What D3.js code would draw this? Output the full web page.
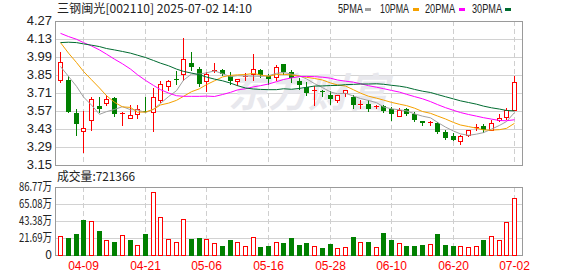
<!DOCTYPE html>
<html>
<head>
<meta charset="utf-8">
<script src="https://cdn.jsdelivr.net/npm/d3@7"></script>
<style>
body { margin: 0; background: #fff; }
svg { display: block; }
text { font-family: "Liberation Sans", Arial, sans-serif; }
.cjk { font-family: "Noto Sans CJK SC", sans-serif; }
</style>
</head>
<body>
<svg></svg>
<script>
var width = 578,
    height = 276;

//data
var dates = ["04-03","04-07","04-08","04-09","04-10","04-11","04-14","04-15","04-16","04-17",
  "04-18","04-21","04-22","04-23","04-24","04-25","04-28","04-29","04-30","05-06",
  "05-07","05-08","05-09","05-12","05-13","05-14","05-15","05-16","05-19","05-20",
  "05-21","05-22","05-23","05-26","05-27","05-28","05-29","05-30","06-03","06-04",
  "06-05","06-06","06-09","06-10","06-11","06-12","06-13","06-16","06-17","06-18",
  "06-19","06-20","06-23","06-24","06-25","06-26","06-27","06-30","07-01","07-02"];

var open = [3.813,3.813,3.558,3.416,3.501,3.609,3.633,3.671,3.550,3.516,
  3.550,3.573,3.563,3.656,3.762,3.818,3.854,3.940,3.898,3.800,
  3.885,3.885,3.844,3.805,3.836,3.860,3.890,3.842,3.834,3.937,
  3.873,3.800,3.756,3.730,3.723,3.697,3.658,3.710,3.679,3.617,
  3.627,3.601,3.609,3.583,3.529,3.583,3.550,3.496,3.478,3.480,
  3.408,3.377,3.336,3.382,3.442,3.452,3.421,3.498,3.522,3.576];
var high = [4.025,3.844,3.589,3.573,3.679,3.679,3.694,3.676,3.560,3.614,
  3.614,3.679,3.749,3.803,3.813,3.878,4.138,4.027,3.916,3.873,
  3.940,3.898,3.873,3.818,3.865,4.017,3.898,3.860,3.929,3.937,
  3.886,3.826,3.795,3.762,3.733,3.723,3.697,3.736,3.692,3.653,
  3.653,3.620,3.620,3.602,3.594,3.594,3.563,3.496,3.496,3.488,
  3.421,3.395,3.380,3.426,3.472,3.472,3.498,3.550,3.594,3.839];
var low = [3.798,3.560,3.382,3.250,3.421,3.560,3.614,3.529,3.460,3.516,
  3.516,3.563,3.413,3.638,3.736,3.782,3.813,3.890,3.762,3.728,
  3.873,3.852,3.782,3.769,3.813,3.813,3.834,3.782,3.813,3.860,
  3.795,3.743,3.692,3.614,3.687,3.627,3.640,3.687,3.594,3.594,
  3.568,3.594,3.563,3.498,3.529,3.542,3.491,3.460,3.460,3.395,
  3.351,3.343,3.310,3.377,3.421,3.408,3.421,3.491,3.511,3.576];
var close = [3.950,3.560,3.467,3.441,3.663,3.589,3.666,3.550,3.553,3.540,
  3.583,3.563,3.679,3.780,3.805,3.813,3.973,3.914,3.780,3.857,
  3.888,3.860,3.800,3.818,3.839,3.893,3.847,3.821,3.916,3.873,
  3.829,3.769,3.712,3.733,3.715,3.661,3.697,3.736,3.620,3.622,
  3.589,3.612,3.571,3.545,3.576,3.550,3.498,3.480,3.481,3.403,
  3.361,3.343,3.374,3.426,3.447,3.421,3.478,3.519,3.576,3.795];

//volume in 万
var volume = [23.7,21.6,26.7,44.4,44.0,30.5,18.6,16.5,25.0,19.0,
  12.3,26.7,80.8,49.1,19.9,16.1,45.3,20.3,21.6,19.9,
  15.2,11.4,19.0,16.1,11.4,22.4,10.2,11.4,16.1,15.2,
  21.6,12.7,15.2,11.0,8.9,14.0,8.5,9.7,22.9,16.1,
  16.5,9.7,27.9,19.0,14.8,11.4,11.4,12.7,13.5,26.7,
  12.7,11.4,10.9,9.7,10.9,19.0,23.7,19.0,41.5,72.1366];

var ma5 = [3.916,3.839,3.762,3.679,3.616,3.544,3.565,3.582,3.604,3.580,
  3.578,3.558,3.584,3.629,3.682,3.728,3.810,3.857,3.857,3.867,
  3.882,3.860,3.837,3.845,3.841,3.842,3.839,3.844,3.863,3.870,
  3.857,3.842,3.820,3.783,3.752,3.718,3.704,3.708,3.686,3.667,
  3.652,3.635,3.602,3.587,3.579,3.571,3.548,3.530,3.517,3.482,
  3.445,3.414,3.392,3.381,3.390,3.402,3.429,3.458,3.488,3.558];
var ma10 = [4.102,4.020,3.947,3.878,3.813,3.749,3.689,3.638,3.602,3.598,
  3.561,3.562,3.583,3.617,3.631,3.653,3.684,3.720,3.743,3.775,
  3.805,3.835,3.847,3.851,3.854,3.862,3.850,3.840,3.854,3.856,
  3.850,3.841,3.832,3.823,3.811,3.788,3.773,3.764,3.735,3.709,
  3.685,3.670,3.655,3.637,3.623,3.612,3.592,3.566,3.552,3.531,
  3.508,3.481,3.461,3.449,3.436,3.423,3.421,3.425,3.435,3.474];
var ma20 = [4.174,4.149,4.128,4.102,4.076,4.045,4.012,3.973,3.937,3.896,
  3.852,3.808,3.769,3.736,3.710,3.689,3.684,3.684,3.684,3.686,
  3.683,3.698,3.715,3.734,3.743,3.758,3.767,3.780,3.798,3.815,
  3.827,3.838,3.839,3.837,3.833,3.825,3.811,3.802,3.794,3.782,
  3.767,3.755,3.744,3.730,3.717,3.700,3.682,3.665,3.643,3.620,
  3.596,3.575,3.558,3.543,3.530,3.518,3.507,3.496,3.494,3.502];
var ma30 = [4.102,4.105,4.102,4.092,4.082,4.071,4.056,4.045,4.033,4.020,
  4.004,3.986,3.963,3.942,3.922,3.896,3.878,3.865,3.852,3.834,
  3.818,3.805,3.787,3.767,3.749,3.741,3.738,3.736,3.736,3.743,
  3.739,3.746,3.754,3.764,3.765,3.768,3.769,3.775,3.777,3.780,
  3.780,3.782,3.778,3.770,3.763,3.754,3.738,3.724,3.714,3.698,
  3.681,3.664,3.649,3.636,3.623,3.608,3.595,3.585,3.574,3.571];

var priceTicks = [4.27, 4.13, 3.99, 3.85, 3.71, 3.57, 3.43, 3.29, 3.15];
var volTicks = [0, 21.69, 43.38, 65.08, 86.77];
var dateTicks = ["04-09","04-21","05-06","05-16","05-28","06-10","06-20","07-02"];

var maSeries = [
  {name: "5PMA", values: ma5, color: "#a0a0a0"},
  {name: "10PMA", values: ma10, color: "#f5a100"},
  {name: "20PMA", values: ma20, color: "#ff00ff"},
  {name: "30PMA", values: ma30, color: "#006b30"}
];

var red = "#ff0000", green = "#008000";

//layout
var left = 55, right = 522,
    priceTop = 21, priceBottom = 165,
    volTop = 187, volBottom = 255;

var svg = d3.select("svg")
    .attr("width", width)
    .attr("height", height);

var x = d3.scaleBand()
  .domain(d3.range(dates.length))
  .range([56.5, 518]);
var y = d3.scaleLinear()
  .domain([3.15, 4.27])
  .range([priceBottom, priceTop]);
var yv = d3.scaleLinear()
  .domain([0, 86.77])
  .range([volBottom, volTop]);

function cx(i) { return Math.round(x(i) + x.bandwidth() / 2) + 0.5; }
function py(v) { return Math.round(y(v)); }

//horizontal grid
svg.append("g").selectAll("line")
    .data(priceTicks)
  .enter().append("line")
    .attr("x1", left).attr("x2", right)
    .attr("y1", function(d){ return py(d) + 0.5; })
    .attr("y2", function(d){ return py(d) + 0.5; })
    .attr("stroke", "#d2d2d2");
svg.append("g").selectAll("line")
    .data(volTicks)
  .enter().append("line")
    .attr("x1", left).attr("x2", right)
    .attr("y1", function(d){ return Math.round(yv(d)) + 0.5; })
    .attr("y2", function(d){ return Math.round(yv(d)) + 0.5; })
    .attr("stroke", "#d2d2d2");

//vertical dashed grid
var vg = svg.append("g").selectAll("g")
    .data(dateTicks)
  .enter().append("g");
[[priceTop, priceBottom], [volTop, volBottom]].forEach(function(r){
  vg.append("line")
    .attr("x1", function(d){ return cx(dates.indexOf(d)); })
    .attr("x2", function(d){ return cx(dates.indexOf(d)); })
    .attr("y1", r[0]).attr("y2", r[1])
    .attr("stroke", "#cfcfcf")
    .attr("stroke-dasharray", "5,3");
});

//watermark
svg.append("text")
  .attr("class", "cjk")
  .attr("x", 228).attr("y", 107)
  .attr("font-size", 40)
  .attr("font-weight", "bold")
  .attr("font-style", "italic")
  .attr("fill", "#e8e8ed")
  .text("东方财富");

//frames
svg.append("rect")
  .attr("x", left + 0.5).attr("y", priceTop + 0.5)
  .attr("width", right - left).attr("height", priceBottom - priceTop)
  .attr("fill", "none").attr("stroke", "#9a9a9a");
svg.append("rect")
  .attr("x", left + 0.5).attr("y", volTop + 0.5)
  .attr("width", right - left).attr("height", volBottom - volTop)
  .attr("fill", "none").attr("stroke", "#9a9a9a");

//candles
svg.append("g").selectAll("g")
    .data(d3.range(dates.length))
  .enter().append("g")
  .each(function(i){
    var g = d3.select(this);
    var up = close[i] >= open[i];
    var col = up ? red : green;
    var xc = cx(i);
    var yt = py(Math.max(open[i], close[i])),
        yb = py(Math.min(open[i], close[i])),
        yh = py(high[i]),
        yl = py(low[i]);
    if (up && yb - yt > 1) {
      g.append("line").attr("x1", xc).attr("x2", xc)
        .attr("y1", yh).attr("y2", yt).attr("stroke", col);
      g.append("line").attr("x1", xc).attr("x2", xc)
        .attr("y1", yb + 1).attr("y2", yl + 1).attr("stroke", col);
      g.append("rect")
        .attr("x", xc - 2).attr("y", yt + 0.5)
        .attr("width", 4).attr("height", yb - yt)
        .attr("fill", "#fff").attr("stroke", col);
    } else {
      g.append("line").attr("x1", xc).attr("x2", xc)
        .attr("y1", yh).attr("y2", yl + 1).attr("stroke", col);
      g.append("rect")
        .attr("x", xc - 2.5).attr("y", yt)
        .attr("width", 5).attr("height", Math.max(yb - yt, 1))
        .attr("fill", col);
    }
  });

//volume bars, coloured by change from the previous close
svg.append("g").selectAll("g")
    .data(d3.range(dates.length))
  .enter().append("g")
  .each(function(i){
    var up = i == 0 ? close[i] >= open[i] : close[i] >= close[i - 1];
    var top = Math.round(yv(volume[i]));
    var xc = cx(i);
    if (up) {
      d3.select(this).append("rect")
        .attr("x", xc - 2).attr("y", top + 0.5)
        .attr("width", 4).attr("height", volBottom - top)
        .attr("fill", "#fff").attr("stroke", red);
    } else {
      d3.select(this).append("rect")
        .attr("x", xc - 2.5).attr("y", top)
        .attr("width", 5).attr("height", volBottom - top + 1)
        .attr("fill", green);
    }
  });

//moving averages
var line = d3.line()
  .x(function(d, i){ return cx(i); })
  .y(function(d){ return y(d); });
svg.append("g").selectAll("path")
    .data(maSeries)
  .enter().append("path")
    .attr("d", function(d){ return line(d.values); })
    .attr("fill", "none")
    .attr("stroke", function(d){ return d.color; })
    .attr("stroke-width", 1);

//axis labels
svg.append("g").selectAll("text")
    .data(priceTicks)
  .enter().append("text")
    .attr("x", 52)
    .attr("y", function(d){ return py(d) + 4; })
    .attr("text-anchor", "end")
    .attr("font-size", 13)
    .attr("fill", "#222")
    .text(function(d){ return d.toFixed(2); });

svg.append("g").selectAll("text")
    .data(volTicks)
  .enter().append("text")
    .attr("class", "cjk")
    .attr("x", 52)
    .attr("y", function(d){ return Math.round(yv(d)) + 4; })
    .attr("text-anchor", "end")
    .attr("font-size", 12)
    .attr("fill", "#222")
    .each(function(d){
      var t = d3.select(this);
      if (d == 0) { t.text("0"); }
      else {
        t.text(d.toFixed(2) + "万")
          .attr("textLength", 33)
          .attr("lengthAdjust", "spacingAndGlyphs");
      }
    });

svg.append("g").selectAll("text")
    .data(dateTicks)
  .enter().append("text")
    .attr("x", function(d){ return cx(dates.indexOf(d)); })
    .attr("y", 270)
    .attr("text-anchor", "middle")
    .attr("font-size", 12)
    .attr("fill", red)
    .text(function(d){ return d; });

//title and volume caption
svg.append("text")
  .attr("class", "cjk")
  .attr("x", 57).attr("y", 13)
  .attr("font-size", 12)
  .attr("fill", "#222")
  .attr("textLength", 195)
  .attr("lengthAdjust", "spacingAndGlyphs")
  .text("三钢闽光[002110] 2025-07-02 14:10");

svg.append("text")
  .attr("class", "cjk")
  .attr("x", 57).attr("y", 181)
  .attr("font-size", 12)
  .attr("fill", "#222")
  .attr("textLength", 78)
  .attr("lengthAdjust", "spacingAndGlyphs")
  .text("成交量:" + Math.round(volume[volume.length - 1] * 10000));

//legend
var legendPos = [[338, 25, 365], [380, 29, 413], [425, 30, 459], [472, 30, 505]];
var legend = svg.append("g").selectAll("g")
    .data(maSeries)
  .enter().append("g");
legend.append("text")
  .attr("x", function(d, i){ return legendPos[i][0]; })
  .attr("y", 13)
  .attr("font-size", 12)
  .attr("fill", "#222")
  .attr("textLength", function(d, i){ return legendPos[i][1]; })
  .attr("lengthAdjust", "spacingAndGlyphs")
  .text(function(d){ return d.name; });
legend.append("rect")
  .attr("x", function(d, i){ return legendPos[i][2]; })
  .attr("y", 8)
  .attr("width", 6).attr("height", 3)
  .attr("fill", function(d){ return d.color; });
</script>
</body>
</html>
